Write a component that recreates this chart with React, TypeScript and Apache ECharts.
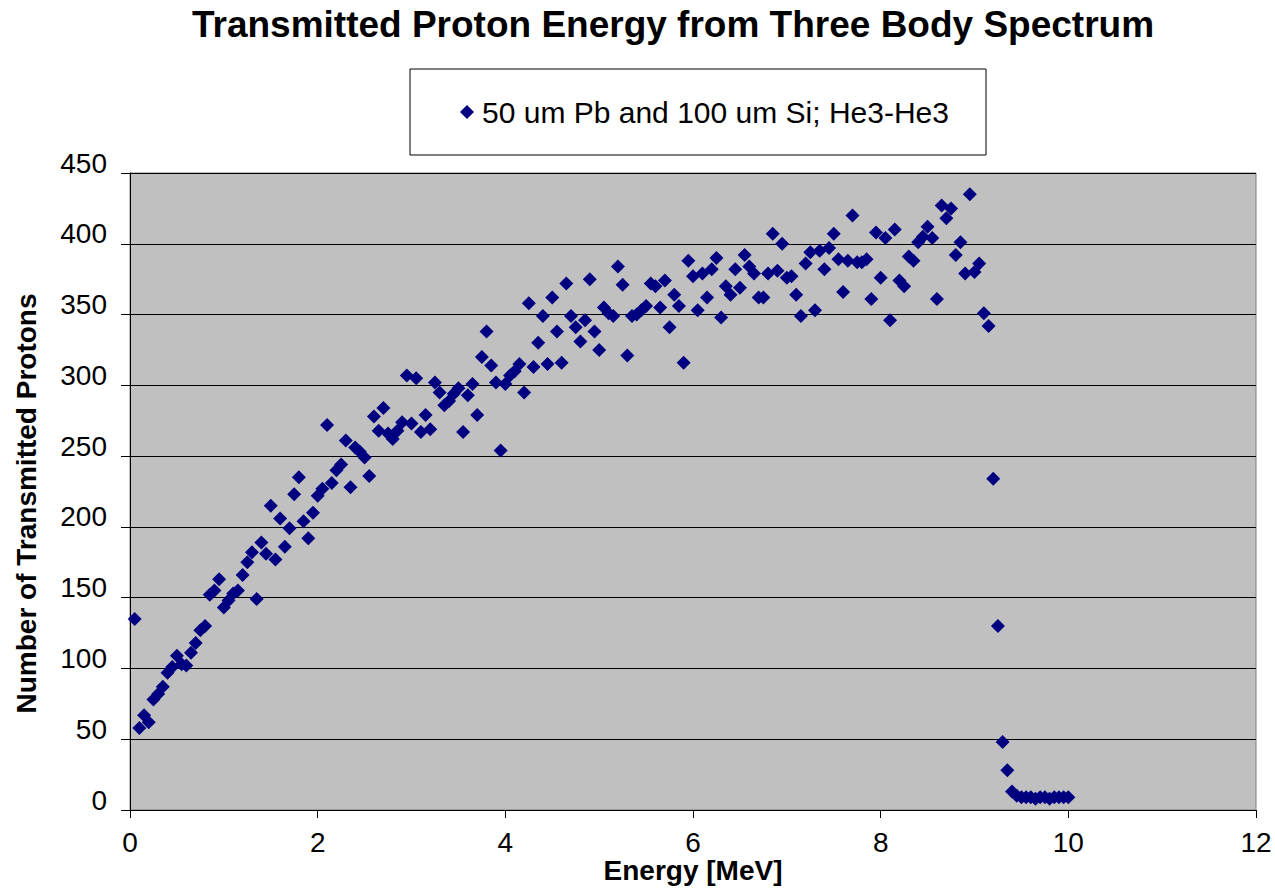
import React, { useEffect, useRef } from 'react';
import * as echarts from 'echarts';

const chartTitle = 'Transmitted Proton Energy from Three Body Spectrum';
const seriesName = '50 um Pb and 100 um Si; He3-He3';
const xAxisName = 'Energy [MeV]';
const yAxisName = 'Number of Transmitted Protons';

const energy = [
  0.05, 0.1, 0.15, 0.2, 0.25, 0.3, 0.35, 0.4, 0.45, 0.5,
  0.55, 0.6, 0.65, 0.7, 0.75, 0.8, 0.85, 0.9, 0.95, 1.0,
  1.05, 1.1, 1.15, 1.2, 1.25, 1.3, 1.35, 1.4, 1.45, 1.5,
  1.55, 1.6, 1.65, 1.7, 1.75, 1.8, 1.85, 1.9, 1.95, 2.0,
  2.05, 2.1, 2.15, 2.2, 2.25, 2.3, 2.35, 2.4, 2.45, 2.5,
  2.55, 2.6, 2.65, 2.7, 2.75, 2.8, 2.85, 2.9, 2.95, 3.0,
  3.05, 3.1, 3.15, 3.2, 3.25, 3.3, 3.35, 3.4, 3.45, 3.5,
  3.55, 3.6, 3.65, 3.7, 3.75, 3.8, 3.85, 3.9, 3.95, 4.0,
  4.05, 4.1, 4.15, 4.2, 4.25, 4.3, 4.35, 4.4, 4.45, 4.5,
  4.55, 4.6, 4.65, 4.7, 4.75, 4.8, 4.85, 4.9, 4.95, 5.0,
  5.05, 5.1, 5.15, 5.2, 5.25, 5.3, 5.35, 5.4, 5.45, 5.5,
  5.55, 5.6, 5.65, 5.7, 5.75, 5.8, 5.85, 5.9, 5.95, 6.0,
  6.05, 6.1, 6.15, 6.2, 6.25, 6.3, 6.35, 6.4, 6.45, 6.5,
  6.55, 6.6, 6.65, 6.7, 6.75, 6.8, 6.85, 6.9, 6.95, 7.0,
  7.05, 7.1, 7.15, 7.2, 7.25, 7.3, 7.35, 7.4, 7.45, 7.5,
  7.55, 7.6, 7.65, 7.7, 7.75, 7.8, 7.85, 7.9, 7.95, 8.0,
  8.05, 8.1, 8.15, 8.2, 8.25, 8.3, 8.35, 8.4, 8.45, 8.5,
  8.55, 8.6, 8.65, 8.7, 8.75, 8.8, 8.85, 8.9, 8.95, 9.0,
  9.05, 9.1, 9.15, 9.2, 9.25, 9.3, 9.35, 9.4, 9.45, 9.5,
  9.55, 9.6, 9.65, 9.7, 9.75, 9.8, 9.85, 9.9, 9.95, 10.0,
];

const protons = [
  135, 58, 67, 62, 78, 82, 87, 97, 101, 109,
  103, 102, 111, 118, 127, 130, 152, 155, 163, 143,
  148, 153, 155, 166, 175, 182, 149, 189, 181, 215,
  177, 206, 186, 199, 223, 235, 204, 192, 210, 222,
  227, 272, 231, 240, 244, 261, 228, 256, 253, 249,
  236, 278, 268, 284, 266, 262, 268, 274, 307, 273,
  305, 267, 279, 269, 302, 295, 286, 289, 294, 298,
  267, 293, 301, 279, 320, 338, 314, 302, 254, 301,
  307, 310, 315, 295, 358, 313, 330, 349, 315, 362,
  338, 316, 372, 349, 341, 331, 346, 375, 338, 325,
  355, 351, 349, 384, 371, 321, 349, 350, 353, 356,
  372, 370, 355, 374, 341, 364, 356, 316, 388, 377,
  353, 379, 362, 382, 390, 348, 370, 364, 382, 369,
  392, 384, 379, 362, 362, 379, 407, 381, 400, 376,
  377, 364, 349, 386, 394, 353, 395, 382, 397, 407,
  389, 366, 388, 420, 387, 387, 389, 361, 408, 376,
  404, 346, 410, 374, 370, 391, 388, 401, 405, 412,
  404, 361, 427, 418, 425, 392, 401, 379, 435, 380,
  386, 351, 342, 234, 130, 48, 28, 13, 10, 9,
  9, 9, 8, 9, 9, 8, 9, 9, 9, 9,
];

const FONT = '"Liberation Sans", Arial, Helvetica, sans-serif';

export default function App() {
  const ref = useRef<HTMLDivElement>(null);

  useEffect(() => {
    if (!ref.current) return;
    const chart = echarts.init(ref.current, null, { renderer: 'svg' });
    const data = energy.map((e, i) => [e, protons[i]]);

    chart.setOption({
      animation: false,
      backgroundColor: '#ffffff',
      title: {
        text: chartTitle,
        left: 673,
        top: 6,
        textAlign: 'center',
        padding: 0,
        textStyle: {
          fontFamily: FONT,
          fontSize: 37,
          fontWeight: 'bold',
          color: '#000000',
        },
      },
      graphic: [
        {
          type: 'rect',
          shape: { x: 410, y: 69, width: 576, height: 86 },
          style: { fill: '#ffffff', stroke: '#000000', lineWidth: 1 },
          z: 0,
        },
      ],
      legend: {
        left: 460,
        top: 96,
        padding: 0,
        z: 10,
        icon: 'diamond',
        itemWidth: 14,
        itemHeight: 14,
        data: [seriesName],
        textStyle: {
          fontFamily: FONT,
          fontSize: 30,
          color: '#000000',
          lineHeight: 32,
          padding: [0, 0, 0, 3],
        },
      },
      grid: {
        left: 130,
        top: 173,
        right: 19,
        bottom: 78,
        show: true,
        containLabel: false,
        outerBoundsMode: 'none',
        backgroundColor: '#C0C0C0',
        borderColor: '#808080',
        borderWidth: 1,
      },
      xAxis: {
        type: 'value',
        min: 0,
        max: 12,
        interval: 2,
        name: xAxisName,
        nameLocation: 'middle',
        nameGap: 46,
        nameMoveOverlap: false,
        nameTextStyle: {
          fontFamily: FONT,
          fontSize: 28,
          fontWeight: 'bold',
          color: '#000000',
          verticalAlign: 'top',
          lineHeight: 28,
        },
        axisLine: { show: true, lineStyle: { color: '#000000', width: 1 } },
        axisTick: { show: true, inside: false, length: 8, lineStyle: { color: '#000000' } },
        axisLabel: {
          fontFamily: FONT,
          fontSize: 28,
          color: '#000000',
          margin: 20,
          lineHeight: 24,
        },
        splitLine: { show: false },
      },
      yAxis: {
        type: 'value',
        min: 0,
        max: 450,
        interval: 50,
        name: yAxisName,
        nameLocation: 'middle',
        nameGap: 90,
        nameRotate: 90,
        nameMoveOverlap: false,
        nameTextStyle: {
          fontFamily: FONT,
          fontSize: 28,
          fontWeight: 'bold',
          color: '#000000',
          padding: [0, 24, 0, 0],
        },
        axisLine: { show: true, lineStyle: { color: '#000000', width: 1 } },
        axisTick: { show: true, inside: false, length: 9, lineStyle: { color: '#000000' } },
        axisLabel: {
          fontFamily: FONT,
          fontSize: 28,
          color: '#000000',
          margin: 23,
          verticalAlign: 'bottom',
          lineHeight: 20,
        },
        splitLine: { show: true, lineStyle: { color: '#000000', width: 1 } },
      },
      series: [
        {
          type: 'scatter',
          name: seriesName,
          data,
          symbol: 'diamond',
          symbolSize: 14,
          itemStyle: { color: '#000080', opacity: 1 },
        },
      ],
    });

    return () => chart.dispose();
  }, []);

  return (
    <div
      ref={ref}
      style={{ position: 'absolute', left: 0, top: 0, width: 1275, height: 888 }}
    />
  );
}
